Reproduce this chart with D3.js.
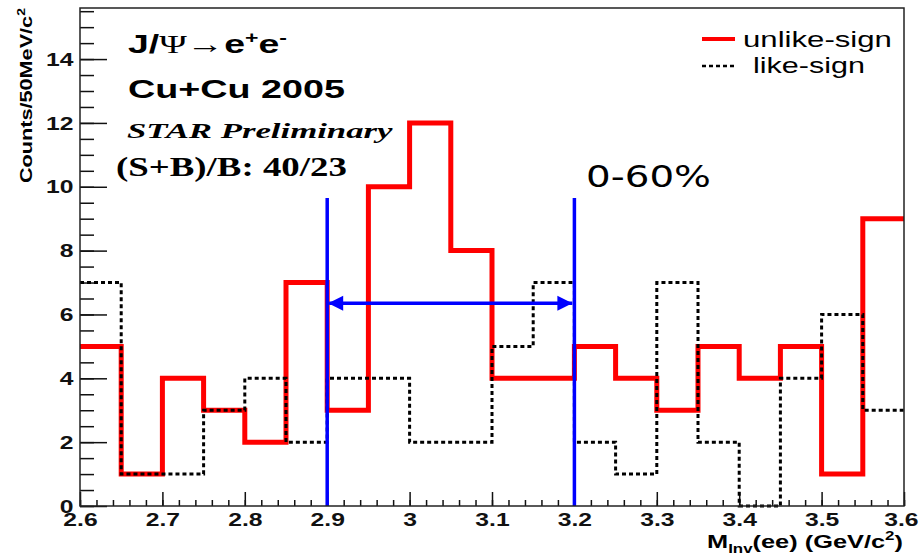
<!DOCTYPE html>
<html>
<head>
<meta charset="utf-8">
<script src="https://cdn.jsdelivr.net/npm/d3@7"></script>
<style>
  body { margin: 0; background: #fff; }
  svg { display: block; }
</style>
</head>
<body>
<div id="chart"></div>
<script>
const width = 920;
const height = 557;

// bin lower edges, 50 MeV bins
const binLow = [2.60, 2.65, 2.70, 2.75, 2.80, 2.85, 2.90, 2.95, 3.00, 3.05,
                3.10, 3.15, 3.20, 3.25, 3.30, 3.35, 3.40, 3.45, 3.50, 3.55];
const binHigh = 3.6;
const unlikeSign = [5, 1, 4, 3, 2, 7, 3, 10, 12, 8, 4, 4, 5, 4, 3, 5, 4, 5, 1, 9];
const likeSign = [7, 1, 1, 3, 4, 2, 4, 4, 2, 2, 5, 7, 2, 1, 7, 2, 0, 4, 6, 3];

const xTicks = [2.6, 2.7, 2.8, 2.9, 3.0, 3.1, 3.2, 3.3, 3.4, 3.5, 3.6];
const xTickLabels = ["2.6", "2.7", "2.8", "2.9", "3", "3.1", "3.2", "3.3", "3.4", "3.5", "3.6"];
const yTicks = [0, 2, 4, 6, 8, 10, 12, 14];
const yMax = 15.6;

// mass window + arrow
const windowLo = 2.9, windowHi = 3.2;
const windowTop = 9.65, arrowLevel = 6.35;

const margin = {left: 80, top: 8, right: 16, bottom: 51};

const svg = d3.select("#chart").append("svg")
    .attr("width", width)
    .attr("height", height);

const x = d3.scaleLinear()
    .domain([2.6, 3.6])
    .range([margin.left, width - margin.right]);

const y = d3.scaleLinear()
    .domain([0, yMax])
    .range([height - margin.bottom, margin.top]);

const defs = svg.append("defs");
["start", "end"].forEach(k => {
    defs.append("marker")
        .attr("id", "arr-" + k)
        .attr("markerUnits", "userSpaceOnUse")
        .attr("markerWidth", 16)
        .attr("markerHeight", 16)
        .attr("viewBox", "0 0 16 16")
        .attr("refX", k == "end" ? 15 : 1)
        .attr("refY", 8)
        .attr("orient", "auto")
        .append("path")
        .attr("d", k == "end" ? "M0,0.5L15,8L0,15.5Z" : "M15,0.5L0,8L15,15.5Z")
        .attr("fill", "#0000ff");
});

// axes (ticks inside the frame, ROOT style)
const tickFont = "'Liberation Sans', Arial, sans-serif";

const yMinor = svg.append("g")
    .attr("transform", `translate(${margin.left},0)`)
    .call(d3.axisLeft(y).tickValues(d3.range(0, 15.6, 0.5)).tickSize(-14).tickFormat(""));
yMinor.select(".domain").remove();

const yMajor = svg.append("g")
    .attr("transform", `translate(${margin.left},0)`)
    .call(d3.axisLeft(y).tickValues(yTicks).tickSize(-27).tickPadding(5).tickFormat(d3.format("d")));
yMajor.select(".domain").remove();

const xMinor = svg.append("g")
    .attr("transform", `translate(0,${height - margin.bottom})`)
    .call(d3.axisBottom(x).tickValues(d3.range(2.6, 3.6001, 0.02)).tickSize(-6).tickFormat(""));
xMinor.select(".domain").remove();

const xMajor = svg.append("g")
    .attr("transform", `translate(0,${height - margin.bottom})`)
    .call(d3.axisBottom(x).tickValues(xTicks).tickSize(-14).tickPadding(7)
        .tickFormat((d, i) => xTickLabels[i]));
xMajor.select(".domain").remove();

svg.selectAll(".tick line").attr("stroke", "#111").attr("stroke-width", 1.5);
svg.selectAll(".tick text")
    .attr("fill", "#111")
    .style("font-family", tickFont)
    .style("font-size", "19px")
    .style("font-weight", "bold")
    .attr("transform", "scale(1.3,1)");

// last x label sits at the window edge; keep it inside
xMajor.selectAll(".tick text").filter((d, i) => i == xTicks.length - 1)
    .attr("text-anchor", "end")
    .attr("x", (width - 2 - x(3.6)) / 1.3);

// histograms
const stepPts = vals => binLow.map((b, i) => [b, vals[i]]).concat([[binHigh, vals[vals.length - 1]]]);
const step = d3.line()
    .x(d => x(d[0]))
    .y(d => y(d[1]))
    .curve(d3.curveStepAfter);

svg.append("path")
    .attr("d", step(stepPts(unlikeSign)))
    .attr("fill", "none")
    .attr("stroke", "#ff0000")
    .attr("stroke-width", 5)
    .attr("stroke-linejoin", "miter");

svg.append("path")
    .attr("d", step(stepPts(likeSign)))
    .attr("fill", "none")
    .attr("stroke", "#000")
    .attr("stroke-width", 3)
    .attr("stroke-dasharray", "4,3");

// window lines
[windowLo, windowHi].forEach(v => {
    svg.append("line")
        .attr("x1", x(v)).attr("x2", x(v))
        .attr("y1", y(0)).attr("y2", y(windowTop))
        .attr("stroke", "#0000ff")
        .attr("stroke-width", 3.5);
});
svg.append("line")
    .attr("x1", x(windowLo) + 2).attr("x2", x(windowHi) - 2)
    .attr("y1", y(arrowLevel)).attr("y2", y(arrowLevel))
    .attr("stroke", "#0000ff")
    .attr("stroke-width", 3.5)
    .attr("marker-start", "url(#arr-start)")
    .attr("marker-end", "url(#arr-end)");

// frame
svg.append("rect")
    .attr("x", margin.left).attr("y", margin.top)
    .attr("width", width - margin.left - margin.right)
    .attr("height", height - margin.top - margin.bottom)
    .attr("fill", "none")
    .attr("stroke", "#222")
    .attr("stroke-width", 1.5);

// text helper: stretch a label horizontally to a target width
function fitText(g, x0, w) {
    const b = g.node().getBBox();
    g.attr("transform", `translate(${x0},0) scale(${w / b.width},1) translate(${-b.x},0)`);
}

function label(x0, baseline, w, font, size, weight, style, build) {
    const g = svg.append("g");
    const t = g.append("text")
        .attr("x", 0).attr("y", baseline)
        .style("font-family", font)
        .style("font-size", size + "px")
        .style("font-weight", weight)
        .style("font-style", style)
        .attr("fill", "#000");
    build(t);
    fitText(g, x0, w);
    return g;
}

const sans = "'Liberation Sans', Arial, sans-serif";
const serif = "'Liberation Serif', 'Times New Roman', serif";

label(128, 53, 159, sans, 26, "bold", "normal", t => {
    t.append("tspan").text("J/");
    t.append("tspan").style("font-family", serif).style("font-weight", "normal").text("Ψ");
    t.append("tspan").style("font-weight", "normal").text("→");
    t.append("tspan").text("e");
    t.append("tspan").attr("dy", -10).style("font-size", "16px").text("+");
    t.append("tspan").attr("dy", 10).text("e");
    t.append("tspan").attr("dy", -10).style("font-size", "16px").text("-");
});
label(128, 98, 217, sans, 26, "bold", "normal", t => t.text("Cu+Cu 2005"));
label(127, 138, 266, serif, 22, "bold", "italic", t => t.text("STAR Preliminary"));
label(116, 176, 231, serif, 27, "bold", "normal", t => t.text("(S+B)/B: 40/23"));
label(586, 187, 125, "'DejaVu Sans', Verdana, sans-serif", 30, "normal", "normal", t => t.text("0-60%"));

// legend
svg.append("line")
    .attr("x1", 702).attr("x2", 735).attr("y1", 39).attr("y2", 39)
    .attr("stroke", "#ff0000").attr("stroke-width", 4);
svg.append("line")
    .attr("x1", 702).attr("x2", 735).attr("y1", 66).attr("y2", 66)
    .attr("stroke", "#000").attr("stroke-width", 2.5).attr("stroke-dasharray", "4,3");
label(743, 47, 149, sans, 22, "normal", "normal", t => t.text("unlike-sign"));
label(753, 73, 112, sans, 22, "normal", "normal", t => t.text("like-sign"));

// x axis title
label(707, 548, 196, sans, 18, "bold", "normal", t => {
    t.append("tspan").text("M");
    t.append("tspan").attr("dy", 5).style("font-size", "12px").text("Inv");
    t.append("tspan").attr("dy", -5).text("(ee) (GeV/c");
    t.append("tspan").attr("dy", -8).style("font-size", "12px").text("2");
    t.append("tspan").attr("dy", 8).text(")");
});

// y axis title (rotated)
const yt = svg.append("g").attr("transform", "translate(32,183) rotate(-90)");
const ytInner = yt.append("g");
const ytText = ytInner.append("text")
    .attr("x", 0).attr("y", 0)
    .style("font-family", sans)
    .style("font-size", "17px")
    .style("font-weight", "bold")
    .attr("fill", "#000");
ytText.append("tspan").text("Counts/50MeV/c");
ytText.append("tspan").attr("dy", -7).style("font-size", "11px").text("2");
{
    const b = ytInner.node().getBBox();
    ytInner.attr("transform", `scale(${175 / b.width},1) translate(${-b.x},0)`);
}
</script>
</body>
</html>
